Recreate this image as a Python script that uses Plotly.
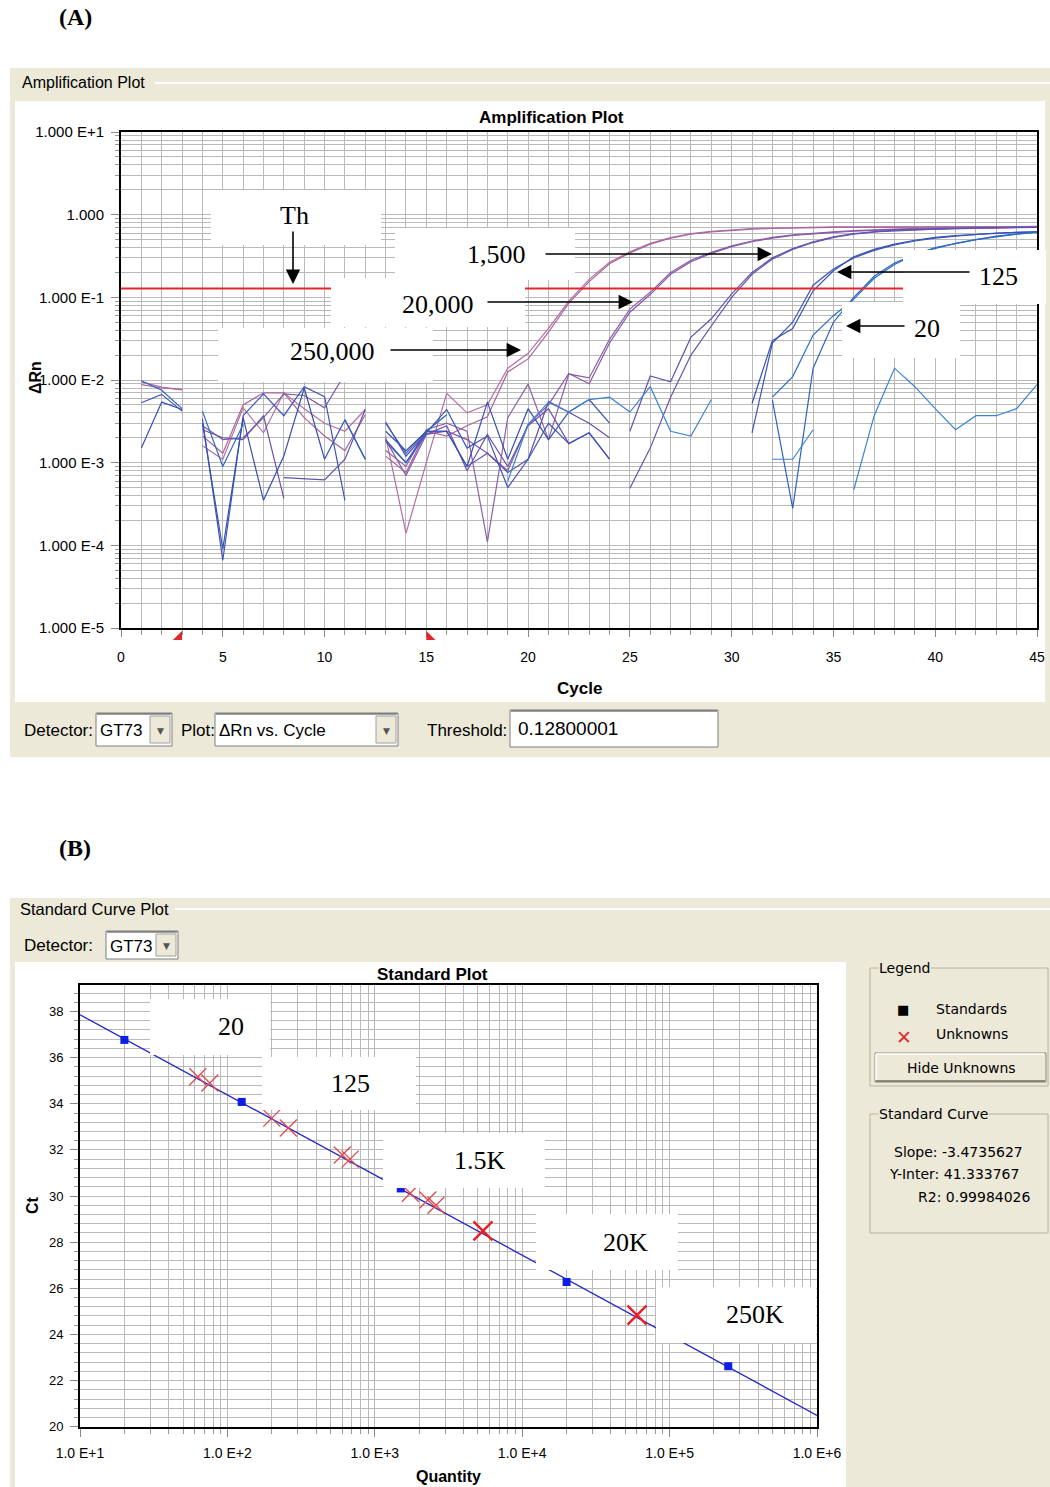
import plotly.graph_objects as go

W, H = 1050, 1487
BEIGE = '#ece9d8'
SANS = 'Liberation Sans, Arial, sans-serif'
UI = 'DejaVu Sans, Verdana, sans-serif'
SERIF = 'Liberation Serif, Times New Roman, serif'

# ================= Panel A: amplification plot data =================
# each curve: list of (first cycle, [ΔRn values for consecutive cycles])
threshold = 0.12800001
baseline_start = 3
baseline_end = 15

amp_250k_a = [(1, [0.0095, 0.0082, 0.0076]),
              (4, [0.0016, 0.0011, 0.0046, 0.0023, 0.0070, 0.0045, 0.0030, 0.0024, 0.0044]),
              (13, [0.0021, 0.00014, 0.0010, 0.0069, 0.0040, 0.0050, 0.0139, 0.021, 0.042, 0.090,
                    0.165, 0.265, 0.355, 0.45, 0.53, 0.59, 0.63, 0.66, 0.68, 0.69, 0.70, 0.70,
                    0.71, 0.71, 0.71, 0.72, 0.72, 0.72, 0.72, 0.72, 0.72, 0.72, 0.72])]
amp_250k_b = [(1, [0.0088, 0.0080, 0.0077]),
              (4, [0.0021, 0.0013, 0.0050, 0.0070, 0.0070, 0.0035, 0.0021, 0.0014, 0.0038]),
              (13, [0.0012, 0.00076, 0.0024, 0.0021, 0.0028, 0.0036, 0.0125, 0.018, 0.038, 0.085,
                    0.155, 0.255, 0.345, 0.44, 0.52, 0.58, 0.62, 0.65, 0.67, 0.68, 0.69, 0.69,
                    0.70, 0.70, 0.70, 0.71, 0.71, 0.71, 0.71, 0.71, 0.71, 0.71, 0.71])]
amp_20k_a = [(13, [0.0014, 0.0009, 0.0025, 0.0030, 0.0024, 0.00011, 0.0035, 0.0089, 0.0019, 0.0118,
                   0.0106, 0.031, 0.072, 0.115, 0.20, 0.28, 0.35, 0.42, 0.48, 0.53, 0.57, 0.60,
                   0.62, 0.64, 0.66, 0.67, 0.68, 0.69, 0.69, 0.70, 0.70, 0.71, 0.71])]
amp_20k_b = [(4, [0.0028, 0.0019, 0.0020, 0.0035, 0.0068, 0.0065, 0.0046, 0.0118, 0.0150]),
             (13, [0.0019, 0.0007, 0.0022, 0.0024, 0.0019, 0.0013, 0.0008, 0.0029, 0.0050, 0.0120,
                   0.0090, 0.028, 0.066, 0.108, 0.19, 0.27, 0.34, 0.41, 0.47, 0.52, 0.56, 0.59,
                   0.61, 0.63, 0.65, 0.66, 0.67, 0.68, 0.68, 0.69, 0.69, 0.70, 0.70])]
amp_1500_a = [(4, [0.0025, 0.0020, 0.0019, 0.0037, 0.00037]),
              (13, [0.0018, 0.0010, 0.0022, 0.0028, 0.0008, 0.0022, 0.0009, 0.0028, 0.0045, 0.0017,
                    0.0023, 0.0011]),
              (25, [0.00049, 0.0015, 0.0062, 0.020, 0.045, 0.10, 0.19, 0.29, 0.38, 0.46, 0.53, 0.58,
                    0.62, 0.64, 0.66, 0.67, 0.68, 0.69, 0.69, 0.70, 0.70])]
amp_1500_b = [(8, [0.00066, 0.00064, 0.00062, 0.0011, 0.0044]),
              (13, [0.0030, 0.0013, 0.0024, 0.0024, 0.0009, 0.0013, 0.00076, 0.0011, 0.0055, 0.0041,
                    0.0030, 0.0020]),
              (25, [0.0024, 0.0112, 0.0095, 0.033, 0.055, 0.11, 0.20, 0.30, 0.39, 0.47, 0.54, 0.59,
                    0.62, 0.65, 0.66, 0.67, 0.68, 0.69, 0.69, 0.70, 0.70])]
amp_125_a = [(1, [0.0053, 0.0067, 0.0042]),
             (4, [0.0034, 0.000066, 0.0037, 0.0068, 0.0037, 0.0083, 0.0063, 0.00035]),
             (13, [0.0031, 0.0012, 0.0023, 0.0044, 0.0015, 0.0021, 0.0005, 0.0011, 0.0030, 0.0017,
                   0.0023, 0.0011]),
             (31, [0.0023, 0.028, 0.050, 0.14, 0.22, 0.30, 0.37, 0.43, 0.48, 0.52, 0.55, 0.58, 0.60,
                   0.61, 0.62])]
amp_125_b = [(1, [0.0015, 0.0054, 0.0044]),
             (4, [0.0030, 0.00009, 0.0035, 0.00035, 0.0012, 0.0080, 0.0011, 0.0033, 0.0011]),
             (13, [0.0024, 0.0014, 0.0024, 0.0024, 0.0009, 0.0054, 0.0011, 0.0045, 0.0019, 0.0041,
                   0.0058, 0.0030]),
             (31, [0.0052, 0.030, 0.042, 0.12, 0.21, 0.31, 0.38, 0.44, 0.49, 0.53, 0.56, 0.58, 0.60,
                   0.61, 0.62])]
amp_20_a = [(1, [0.0098, 0.0075, 0.0045]),
            (11, [0.0033, 0.0011]),
            (13, [0.0019, 0.0010, 0.0024, 0.0038]),
            (32, [0.0057, 0.00028, 0.0139, 0.050, 0.10, 0.18, 0.26, 0.33, 0.39, 0.45, 0.50, 0.54,
                  0.58, 0.61])]
amp_20_b = [(4, [0.0042, 0.0009, 0.0029]),
            (32, [0.0062, 0.011, 0.035, 0.060, 0.095, 0.17, 0.25, 0.33, 0.40, 0.45, 0.50, 0.55,
                  0.59, 0.62])]
amp_ntc = [(19, [0.0006, 0.0029, 0.0054, 0.0041, 0.0058, 0.0062, 0.0041, 0.0083, 0.0024, 0.0021,
                 0.0058]),
           (32, [0.0011, 0.0011, 0.0025]),
           (36, [0.00047, 0.0037, 0.0139, 0.0083, 0.0045, 0.0025, 0.0037, 0.0037, 0.0045, 0.0088])]

amp_curves = [('250,000', amp_250k_a, '#b56fa3'), ('250,000', amp_250k_b, '#a8679c'),
              ('20,000', amp_20k_a, '#8d5fa9'), ('20,000', amp_20k_b, '#8459a6'),
              ('1,500', amp_1500_a, '#6a51ad'), ('1,500', amp_1500_b, '#6251b0'),
              ('125', amp_125_a, '#3d55b8'), ('125', amp_125_b, '#3550b5'),
              ('20', amp_20_a, '#2e62c2'), ('20', amp_20_b, '#2a6cc6'),
              ('NTC', amp_ntc, '#3b84d2')]

a_xtick_vals = [0, 5, 10, 15, 20, 25, 30, 35, 40, 45]
a_ytick_vals = [1e-5, 1e-4, 1e-3, 1e-2, 1e-1, 1, 10]
a_ytick_text = ['1.000 E-5', '1.000 E-4', '1.000 E-3', '1.000 E-2', '1.000 E-1', '1.000', '1.000 E+1']

# ================= Panel B: standard curve data =================
std_qty = [20, 125, 1500, 20000, 250000]
std_ct = [36.77, 34.08, 30.33, 26.27, 22.62]
unk_qty = [63, 76, 200, 259, 602, 680, 1740, 2290, 2600]
unk_ct = [35.17, 34.90, 33.38, 32.95, 31.78, 31.60, 30.12, 29.83, 29.60]
unk_big_qty = [5420, 60100]
unk_big_ct = [28.49, 24.84]
fit_qty = [10, 1000000]
fit_ct = [37.86, 20.49]
b_xtick_vals = [10, 100, 1000, 10000, 100000, 1000000]
b_xtick_text = ['1.0 E+1', '1.0 E+2', '1.0 E+3', '1.0 E+4', '1.0 E+5', '1.0 E+6']
b_ytick_vals = [20, 22, 24, 26, 28, 30, 32, 34, 36, 38]
slope_text = 'Slope: -3.4735627'
inter_text = 'Y-Inter: 41.333767'
r2_text = 'R2: 0.99984026'


def seg_xy(segments):
    xs, ys = [], []
    for start, vals in segments:
        if xs:
            xs.append(None)
            ys.append(None)
        for i, v in enumerate(vals):
            xs.append(start + i)
            ys.append(v)
    return xs, ys


def X(p):
    return p / W


def Y(p):
    return 1 - p / H


shapes = []
annotations = []


def rect(x0, y0, x1, y1, fill=None, line=None, lw=1, layer='below'):
    shapes.append(dict(type='rect', xref='paper', yref='paper', x0=X(x0), x1=X(x1),
                       y0=Y(y1), y1=Y(y0), fillcolor=fill if fill else 'rgba(0,0,0,0)',
                       line=dict(color=line if line else 'rgba(0,0,0,0)', width=lw if line else 0),
                       layer=layer))


def seg(x0, y0, x1, y1, color, width=1, layer='above'):
    shapes.append(dict(type='line', xref='paper', yref='paper', x0=X(x0), x1=X(x1),
                       y0=Y(y0), y1=Y(y1), line=dict(color=color, width=width), layer=layer))


def txt(x, y, s, size=14, family=SANS, color='black', xanchor='left', yanchor='middle',
        bold=False, angle=0, bg=None):
    annotations.append(dict(x=X(x), y=Y(y), xref='paper', yref='paper',
                            text='<b>%s</b>' % s if bold else s, showarrow=False,
                            font=dict(size=size, family=family, color=color),
                            xanchor=xanchor, yanchor=yanchor, textangle=angle,
                            bgcolor=bg, borderpad=0))


def arrow(hx, hy, tx, ty):
    annotations.append(dict(x=X(hx), y=Y(hy), xref='paper', yref='paper', ax=tx - hx, ay=ty - hy,
                            axref='pixel', ayref='pixel', text='', showarrow=True,
                            arrowhead=2, arrowsize=1.8, arrowwidth=1.6, arrowcolor='black',
                            standoff=0, startstandoff=0))


def combo(x0, y0, x1, y1, label, size=17):
    rect(x0, y0, x1, y1, fill='white', line='#7f7f7f', lw=1)
    seg(x0 + 1, y0 + 1, x1 - 1, y0 + 1, '#404040', 1, 'below')
    bx0 = x1 - 22
    rect(bx0, y0 + 3, x1 - 2, y1 - 3, fill='#ece9d8', line='#a0a0a0', lw=1)
    txt((bx0 + x1 - 2) / 2, (y0 + y1) / 2 + 1, '▼', size=9, family=UI, color='#555555',
        xanchor='center')
    txt(x0 + 3, (y0 + y1) / 2 + 1, label, size=size)


# ---------- background / window chrome ----------
rect(10, 68, 1050, 757, fill=BEIGE)
rect(15, 101, 1045, 702, fill='white')
seg(155, 83, 1050, 83, '#ffffff', 2, 'below')
txt(21, 82, 'Amplification Plot', size=16)
txt(58, 17, '(A)', size=24, family=SERIF, bold=True)

txt(23, 730, 'Detector:', size=17)
combo(96, 713, 172, 746, 'GT73')
txt(180, 730, 'Plot:', size=17)
combo(215, 713, 398, 746, 'ΔRn vs. Cycle')
txt(426, 730, 'Threshold:', size=17)
rect(510, 710, 718, 747, fill='white', line='#7f7f7f', lw=1)
seg(511, 711, 717, 711, '#404040', 1, 'below')
txt(517, 729, '0.12800001', size=19)

rect(10, 898, 1050, 1487, fill=BEIGE)
rect(15, 962, 846, 1487, fill='white')
seg(175, 909, 1050, 909, '#ffffff', 2, 'below')
txt(19, 909, 'Standard Curve Plot', size=16.5)
txt(58, 848, '(B)', size=24, family=SERIF, bold=True)
txt(23, 945, 'Detector:', size=17)
combo(106, 931, 178, 959, 'GT73')

# legend group box
rect(870, 968, 1048, 1086, line='#b5b2a2', lw=1)
txt(878, 968, 'Legend', size=14, family=UI, bg=BEIGE)
txt(903, 1009, '■', size=13, family=UI, xanchor='center')
txt(935, 1009, 'Standards', size=14, family=UI)
txt(904, 1037, '✕', size=19, family=UI, color='#e03030', xanchor='center')
txt(935, 1034, 'Unknowns', size=14, family=UI)
rect(875, 1053, 1046, 1082, fill=BEIGE, line='#8a8878', lw=1)
seg(876, 1054, 1044, 1054, 'white', 1.5, 'below')
seg(876, 1054, 876, 1080, 'white', 1.5, 'below')
seg(876, 1081, 1045, 1081, '#6f6d60', 1.5, 'below')
txt(961, 1068, 'Hide Unknowns', size=14, family=UI, xanchor='center')

rect(870, 1114, 1048, 1233, line='#b5b2a2', lw=1)
txt(878, 1114, 'Standard Curve', size=14, family=UI, bg=BEIGE)
txt(893, 1152, slope_text, size=14, family=UI)
txt(888, 1174, inter_text, size=14, family=UI)
txt(917, 1197, r2_text, size=14, family=UI)

# baseline start / end markers under the cycle axis
shapes.append(dict(type='path', xref='x', yref='paper', layer='above',
                   path='M %s,%s L %s,%s L %s,%s Z' % (baseline_start - 0.45, Y(640),
                                                      baseline_start, Y(640),
                                                      baseline_start, Y(631)),
                   fillcolor='#e3262b', line=dict(width=0)))
shapes.append(dict(type='path', xref='x', yref='paper', layer='above',
                   path='M %s,%s L %s,%s L %s,%s Z' % (baseline_end, Y(640),
                                                      baseline_end + 0.45, Y(640),
                                                      baseline_end, Y(631)),
                   fillcolor='#e3262b', line=dict(width=0)))

# ---------- figure ----------
fig = go.Figure()

GRID = '#b9b9b9'

for name, segs, color in amp_curves:
    xs, ys = seg_xy(segs)
    fig.add_trace(go.Scatter(x=xs, y=ys, mode='lines', name=name,
                             line=dict(color=color, width=1.2), xaxis='x', yaxis='y',
                             showlegend=False, hoverinfo='skip'))

fig.add_trace(go.Scatter(x=[0, 45], y=[threshold, threshold], mode='lines',
                         line=dict(color='#e3262b', width=2), xaxis='x', yaxis='y',
                         showlegend=False))

# panel B traces
fig.add_trace(go.Scatter(x=fit_qty, y=fit_ct, mode='lines', line=dict(color='#2323c8', width=1.3),
                         xaxis='x2', yaxis='y2', showlegend=False))
fig.add_trace(go.Scatter(x=std_qty, y=std_ct, mode='markers', name='Standards',
                         marker=dict(symbol='square', size=8, color='#0d1ee6'),
                         xaxis='x2', yaxis='y2', showlegend=False))
fig.add_trace(go.Scatter(x=unk_qty, y=unk_ct, mode='markers', name='Unknowns',
                         marker=dict(symbol='x-thin', size=17,
                                     line=dict(color='#e0484d', width=1.3)),
                         xaxis='x2', yaxis='y2', showlegend=False))
fig.add_trace(go.Scatter(x=unk_big_qty, y=unk_big_ct, mode='markers', name='Unknowns',
                         marker=dict(symbol='x-thin', size=19,
                                     line=dict(color='#ee1c24', width=2.4)),
                         xaxis='x2', yaxis='y2', showlegend=False))

# ---------- label boxes (panel A) ----------
for (x0, y0, x1, y1) in [(211, 190, 381, 245), (395, 228, 575, 280), (331, 278, 525, 327),
                         (218, 328, 433, 382), (903, 250, 1046, 304), (842, 302, 960, 358)]:
    rect(x0, y0, x1, y1, fill='white', layer='above')
txt(294, 215, 'Th', size=26, family=SERIF, xanchor='center')
txt(496, 254, '1,500', size=26, family=SERIF, xanchor='center')
txt(438, 304, '20,000', size=26, family=SERIF, xanchor='center')
txt(333, 352, '250,000', size=26, family=SERIF, xanchor='center')
txt(998, 277, '125', size=26, family=SERIF, xanchor='center')
txt(927, 328, '20', size=26, family=SERIF, xanchor='center')
arrow(293, 284, 293, 230)
arrow(772, 254, 544, 254)
arrow(633, 302, 486, 302)
arrow(521, 350, 389, 350)
arrow(837, 272, 971, 272)
arrow(846, 326, 906, 326)

# ---------- label boxes (panel B) ----------
for (x0, y0, x1, y1) in [(150, 999, 270, 1055), (262, 1057, 416, 1110), (383, 1133, 545, 1188),
                         (536, 1214, 678, 1270), (656, 1287, 816, 1343)]:
    rect(x0, y0, x1, y1, fill='white', layer='above')
txt(231, 1026, '20', size=26, family=SERIF, xanchor='center')
txt(350, 1083, '125', size=26, family=SERIF, xanchor='center')
txt(480, 1160, '1.5K', size=26, family=SERIF, xanchor='center')
txt(625, 1242, '20K', size=26, family=SERIF, xanchor='center')
txt(755, 1314, '250K', size=26, family=SERIF, xanchor='center')

# axis titles & plot titles
txt(551, 118, 'Amplification Plot', size=17, bold=True, xanchor='center')
txt(579, 688, 'Cycle', size=17, bold=True, xanchor='center')
txt(35, 378, 'ΔRn', size=16, bold=True, xanchor='center', angle=-90)
txt(432, 974, 'Standard Plot', size=17, bold=True, xanchor='center')
txt(448, 1476, 'Quantity', size=16, bold=True, xanchor='center')
txt(32, 1205, 'Ct', size=16, bold=True, xanchor='center', angle=-90)

a_yminor = [m * 10 ** e for e in range(-5, 1) for m in range(2, 10)]
b_xminor = [m * 10 ** e for e in range(1, 6) for m in range(2, 10)]
b_yminor = [20 + 0.4 * i for i in range(48)]

fig.update_layout(
    width=W, height=H, autosize=False,
    margin=dict(l=0, r=0, t=0, b=0, pad=0, autoexpand=False),
    paper_bgcolor='white', plot_bgcolor='white',
    showlegend=False,
    shapes=shapes, annotations=annotations,
    xaxis=dict(domain=[X(121), X(1037)], anchor='y', range=[0, 45], automargin=False,
               tickvals=a_xtick_vals, ticks='outside', ticklen=7, tickcolor='#888888',
               ticklabelstandoff=8,
               tickfont=dict(family=SANS, size=14, color='black'),
               showgrid=True, gridcolor=GRID, gridwidth=1,
               minor=dict(dtick=1, showgrid=True, gridcolor=GRID, ticks='outside', ticklen=5,
                          tickcolor='#999999'),
               showline=True, linecolor='black', linewidth=2, mirror=True, zeroline=False),
    yaxis=dict(domain=[Y(628), Y(132)], anchor='x', type='log', range=[-5, 1], automargin=False,
               tickvals=a_ytick_vals, ticktext=a_ytick_text, ticks='outside', ticklen=8,
               tickcolor='#888888', ticklabelstandoff=4,
               tickfont=dict(family=SANS, size=15, color='black'),
               showgrid=True, gridcolor=GRID, gridwidth=1,
               minor=dict(tickvals=a_yminor, showgrid=True, gridcolor=GRID, ticks='outside',
                          ticklen=4, tickcolor='#999999'),
               showline=True, linecolor='black', linewidth=2, mirror=True, zeroline=False),
    xaxis2=dict(domain=[X(80), X(817)], anchor='y2', type='log', range=[1, 6], automargin=False,
                tickvals=b_xtick_vals, ticktext=b_xtick_text, ticks='outside', ticklen=8,
                tickcolor='#888888', ticklabelstandoff=4,
                tickfont=dict(family=SANS, size=14, color='black'),
                showgrid=True, gridcolor=GRID, gridwidth=1,
                minor=dict(tickvals=b_xminor, showgrid=True, gridcolor=GRID, ticks='outside',
                           ticklen=5, tickcolor='#999999'),
                showline=True, linecolor='black', linewidth=2, mirror=True, zeroline=False),
    yaxis2=dict(domain=[Y(1426.7), Y(985)], anchor='x2', range=[20, 39.15], automargin=False,
                tickvals=b_ytick_vals, ticks='outside', ticklen=8, tickcolor='#888888',
                ticklabelstandoff=4,
                tickfont=dict(family=SANS, size=13, color='black'),
                showgrid=True, gridcolor=GRID, gridwidth=1,
                minor=dict(tickvals=b_yminor, showgrid=True, gridcolor=GRID, ticks='outside',
                           ticklen=4, tickcolor='#999999'),
                showline=True, linecolor='black', linewidth=2, mirror=True, zeroline=False),
)

fig.write_html('out.html', config={'displayModeBar': False},
               post_script="document.body.style.margin='0';"
                           "document.body.style.padding='0';"
                           "document.body.style.overflow='hidden';"
                           "document.documentElement.style.overflow='hidden';")
